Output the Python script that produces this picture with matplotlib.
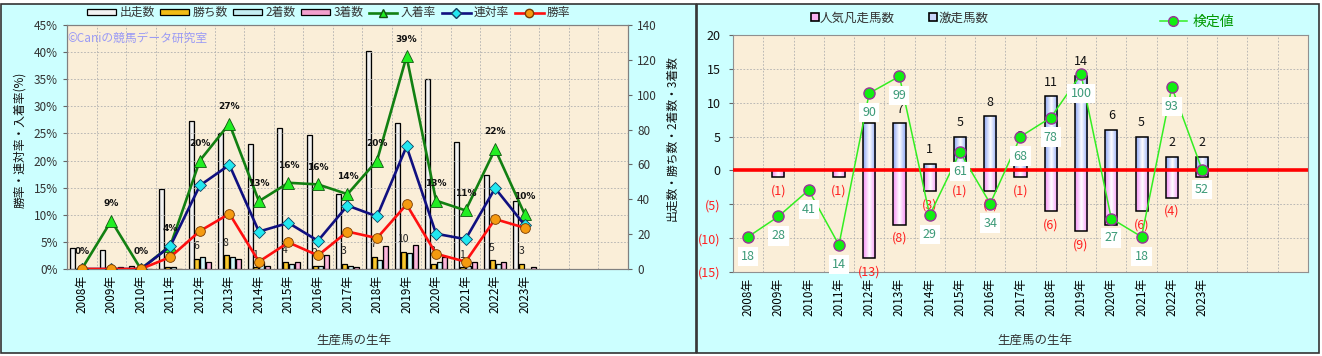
import numpy as np
import matplotlib
matplotlib.use('Agg')
import matplotlib.pyplot as plt
from matplotlib.colors import LinearSegmentedColormap
from matplotlib.lines import Line2D
from matplotlib.patches import Rectangle, Patch

plt.rcParams['font.family'] = ['Noto Sans CJK JP', 'DejaVu Sans']

# ---- data ----
years = ['2008年', '2009年', '2010年', '2011年', '2012年', '2013年', '2014年', '2015年',
         '2016年', '2017年', '2018年', '2019年', '2020年', '2021年', '2022年', '2023年']
n_slots = 19  # axis has 3 empty slots after 2023

runs = [12, 11, 2, 46, 85, 78, 72, 81, 77, 43, 125, 84, 109, 73, 54, 39]
wins = [0, 0, 0, 1, 6, 8, 1, 4, 2, 3, 7, 10, 3, 1, 5, 3]
seconds = [0, 0, 0, 1, 7, 7, 4, 3, 2, 2, 5, 9, 4, 2, 3, 0]
thirds = [0, 1, 0, 0, 4, 6, 2, 4, 8, 1, 13, 14, 7, 4, 4, 1]

place_rate = [0, 8.9, 0, 4.3, 20.0, 26.8, 12.5, 15.9, 15.6, 13.8, 20.0, 39.2, 12.6, 10.8, 22.1, 10.1]
quinella_rate = [0, 0, 0, 4.2, 15.4, 19.2, 6.9, 8.5, 5.2, 11.7, 9.7, 22.6, 6.5, 5.5, 14.9, 8.1]
win_rate = [0, 0, 0, 2.2, 7.0, 10.2, 1.35, 4.9, 2.5, 6.9, 5.7, 11.9, 2.8, 1.35, 9.2, 7.6]

hit_counts = [0, 0, 0, 0, 7, 7, 1, 5, 8, 3, 11, 14, 6, 5, 2, 2]
flop_counts = [0, 1, 0, 1, 13, 8, 3, 1, 3, 1, 6, 9, 8, 6, 4, 1]
test_pos = [-9.8, -6.8, -2.9, -11.0, 11.4, 13.9, -6.6, 2.7, -4.9, 5.0, 7.8, 14.2, -7.1, -9.8, 12.3, 0.1]
test_vals = [18, 28, 41, 14, 90, 99, 29, 61, 34, 68, 78, 100, 27, 18, 93, 52]

W, H = 1322, 356
x = np.arange(len(years))


def shade(ax, bars, edge, mid):
    # horizontal gradient inside each bar, clipped to the bar outline
    cmap = LinearSegmentedColormap.from_list('g', [edge, mid, edge])
    for b in bars:
        if b.get_height() == 0:
            continue
        x0, y0 = b.get_x(), b.get_y()
        im = ax.imshow(np.linspace(0, 1, 64)[None, :], cmap=cmap, aspect='auto',
                       extent=(x0, x0 + b.get_width(), y0, y0 + b.get_height()),
                       zorder=b.get_zorder() - 0.1, interpolation='bilinear')
        im.set_clip_path(b)


fig = plt.figure(figsize=(W / 100, H / 100), dpi=100, facecolor='white')
fig.patches.append(Rectangle((1 / W, 3 / H), 695 / W, 349 / H, transform=fig.transFigure,
                             fc='#CCFFFF', ec='#333333', lw=1.2, zorder=-10))
fig.patches.append(Rectangle((697 / W, 3 / H), 622 / W, 349 / H, transform=fig.transFigure,
                             fc='#CCFFFF', ec='#333333', lw=1.2, zorder=-10))

grid_kw = dict(color='#AFAFAF', lw=0.6, linestyle=(0, (2, 2)))

# ================= left chart =================
ax_cnt = fig.add_axes([67 / W, 87 / H, 561 / W, 244 / H])
ax_pct = ax_cnt.twinx()
ax_cnt.set_facecolor('#FAEED8')
ax_pct.patch.set_visible(False)
ax_cnt.yaxis.set_ticks_position('right')
ax_pct.yaxis.set_ticks_position('left')

bw = 0.17
bar_specs = [
    (runs, -0.3, '#BEBEBE', '#FFFFFF'),
    (wins, -0.1, '#D89A00', '#FFD23C'),
    (seconds, 0.1, '#8CCFD6', '#E8FFFF'),
    (thirds, 0.3, '#E07AB4', '#FFC8E4'),
]
for vals, off, c_edge, c_mid in bar_specs:
    bars = ax_cnt.bar(x + off, vals, bw, facecolor='none', edgecolor='black', lw=0.9, zorder=3)
    shade(ax_cnt, bars, c_edge, c_mid)

for i, w in enumerate(wins):
    if w > 0:
        ax_cnt.annotate(str(w), (x[i] - 0.12, w), xytext=(0, 9), textcoords='offset points',
                        ha='center', va='center', fontsize=7.5, color='#222222', zorder=4)

ax_pct.plot(x, place_rate, color='#128012', lw=1.9, marker='^', ms=8,
            mfc='#22EE22', mec='#115511', mew=0.6, zorder=5)
ax_pct.plot(x, quinella_rate, color='#101080', lw=1.9, marker='D', ms=6,
            mfc='#22E8F0', mec='#104060', mew=0.6, zorder=6)
ax_pct.plot(x, win_rate, color='#FF1010', lw=1.9, marker='o', ms=7,
            mfc='#F59A10', mec='#7A3A00', mew=0.6, zorder=7)
for i, r in enumerate(place_rate):
    ax_pct.annotate(f'{int(r + 0.5)}%', (x[i], r), xytext=(0, 12.5), textcoords='offset points',
                    ha='center', va='center', fontsize=6.5, fontweight='bold', color='#111111',
                    family='DejaVu Sans', zorder=8)

ax_cnt.set_xlim(-0.5, n_slots - 0.5)
ax_cnt.set_ylim(0, 140)
ax_pct.set_ylim(0, 45)
ax_cnt.set_yticks(np.arange(0, 141, 20))
ax_pct.set_yticks(np.arange(0, 46, 5))
ax_pct.set_yticklabels([f'{v}%' for v in range(0, 46, 5)])
ax_cnt.set_xticks(x)
ax_cnt.set_xticklabels(years, rotation=90, fontsize=8.5)
ax_cnt.set_xticks(np.arange(-0.5, n_slots), minor=True)
ax_cnt.tick_params(axis='x', which='both', length=0, pad=4)
ax_cnt.tick_params(axis='y', labelsize=8.5, labelcolor='#333333', length=3, color='#666666')
ax_pct.tick_params(axis='y', labelsize=8.5, labelcolor='#333333', length=3, color='#666666')
ax_cnt.grid(True, which='minor', axis='x', **grid_kw)
ax_pct.grid(True, axis='y', **grid_kw)
ax_cnt.set_axisbelow(True)
for a in (ax_cnt, ax_pct):
    for s in a.spines.values():
        s.set_color('#808080')

ax_cnt.text(0.0, 0.947, '©Caniの競馬データ研究室', transform=ax_cnt.transAxes, ha='left',
            va='center', fontsize=8.5, color='#9A9AF5', zorder=9)

handles = [
    Patch(fc='#F2F2F2', ec='black', lw=0.9),
    Patch(fc='#F2BC14', ec='black', lw=0.9),
    Patch(fc='#C4EEF2', ec='black', lw=0.9),
    Patch(fc='#F3A0CE', ec='black', lw=0.9),
    Line2D([], [], color='#128012', lw=1.9, marker='^', ms=6, mfc='#22EE22', mec='#115511'),
    Line2D([], [], color='#101080', lw=1.9, marker='D', ms=5, mfc='#22E8F0', mec='#104060'),
    Line2D([], [], color='#FF1010', lw=1.9, marker='o', ms=6, mfc='#F59A10', mec='#7A3A00'),
]
labels = ['出走数', '勝ち数', '2着数', '3着数', '入着率', '連対率', '勝率']
leg = ax_pct.legend(handles, labels, ncol=7, loc='center', bbox_to_anchor=(0.467, 1.05),
                    frameon=False, fontsize=8.5, handlelength=2.4, handleheight=0.45,
                    columnspacing=0.5, handletextpad=0.3, borderaxespad=0)
for t in leg.get_texts():
    t.set_color('#333333')

fig.text(20 / W, 1 - 140 / H, '勝率・連対率・入着率(%)', rotation=90, ha='center', va='center',
         fontsize=8.5, color='#111111')
fig.text(672 / W, 1 - 138 / H, '出走数・勝ち数・2着数・3着数', rotation=90, ha='center',
         va='center', fontsize=8.5, color='#111111')
fig.text(354 / W, 1 - 340 / H, '生産馬の生年', ha='center', va='center', fontsize=9,
         color='#333333')

# ================= right chart =================
ax2 = fig.add_axes([733 / W, 84 / H, 575 / W, 237 / H])
ax2.set_facecolor('#FAEED8')

neg = [-v for v in flop_counts]
pink = ax2.bar(x, neg, 0.4, facecolor='none', edgecolor='black', lw=1.1, zorder=3)
shade(ax2, pink, '#F590F5', '#FFFFFF')
blue = ax2.bar(x, hit_counts, 0.4, facecolor='none', edgecolor='black', lw=1.1, zorder=3)
shade(ax2, blue, '#8EA6F5', '#FFFFFF')

ax2.axhline(0, color='#FF0000', lw=2.6, zorder=4)

for i in range(len(years)):
    if hit_counts[i] > 0:
        ax2.annotate(str(hit_counts[i]), (x[i], hit_counts[i]), xytext=(0, 10),
                     textcoords='offset points', ha='center', va='center', fontsize=9,
                     color='#111111', zorder=5)
    if flop_counts[i] > 0:
        ax2.annotate(f'({flop_counts[i]})', (x[i], neg[i]), xytext=(0, -10),
                     textcoords='offset points', ha='center', va='center', fontsize=9,
                     color='#FF2020', zorder=5)

ax2.plot(x, test_pos, color='#33EE22', lw=1.1, zorder=6)
for i, v in enumerate(test_vals):
    ax2.annotate(str(v), (x[i], test_pos[i]), xytext=(0, -14), textcoords='offset points',
                 ha='center', va='center', fontsize=9, color='#3C9A78', zorder=7,
                 bbox=dict(boxstyle='square,pad=0.25', fc='white', ec='none'))
ax2.plot(x, test_pos, linestyle='none', marker='o', ms=8, mfc='#11EE11', mec='#993399',
         mew=1.0, zorder=8)

ax2.set_xlim(-0.5, n_slots - 0.5)
ax2.set_ylim(-15, 20)
ticks = np.arange(-15, 21, 5)
ax2.set_yticks(ticks)
ax2.set_yticklabels([str(t) if t >= 0 else f'({-t})' for t in ticks])
for t, lab in zip(ticks, ax2.get_yticklabels()):
    lab.set_color('#FF2020' if t < 0 else '#111111')
ax2.set_xticks(x)
ax2.set_xticklabels(years, rotation=90, fontsize=8.5)
ax2.set_xticks(np.arange(-0.5, n_slots), minor=True)
ax2.tick_params(axis='x', which='both', length=0, pad=4)
ax2.tick_params(axis='y', labelsize=9, length=3, color='#666666', pad=6)
ax2.grid(True, which='minor', axis='x', **grid_kw)
ax2.grid(True, axis='y', **grid_kw)
ax2.set_axisbelow(True)
for s in ax2.spines.values():
    s.set_color('#909090')

leg2 = ax2.legend([Line2D([], [], ls='none', marker='s', ms=6, mfc='#F7B0F0', mec='black', mew=1.2),
                   Line2D([], [], ls='none', marker='s', ms=6, mfc='#C8D4FA', mec='black', mew=1.2)],
                  ['人気凡走馬数', '激走馬数'], ncol=2, loc='center', bbox_to_anchor=(0.29, 1.072),
                  frameon=False, fontsize=9, handlelength=0.6, handletextpad=0.1,
                  columnspacing=2.8, borderaxespad=0)
for t in leg2.get_texts():
    t.set_color('#333333')
ax2.add_artist(leg2)
leg3 = ax2.legend([Line2D([], [], color='#33EE22', lw=1.1, marker='o', ms=7, mfc='#11EE11',
                          mec='#993399')],
                  ['検定値'], loc='center', bbox_to_anchor=(0.807, 1.055), frameon=False,
                  fontsize=10, handlelength=2.0, handletextpad=0.4, borderaxespad=0)
leg3.get_texts()[0].set_color('#009900')

fig.text(1035 / W, 1 - 340 / H, '生産馬の生年', ha='center', va='center', fontsize=9,
         color='#333333')

fig.savefig('out.png', dpi=100, facecolor=fig.get_facecolor())
